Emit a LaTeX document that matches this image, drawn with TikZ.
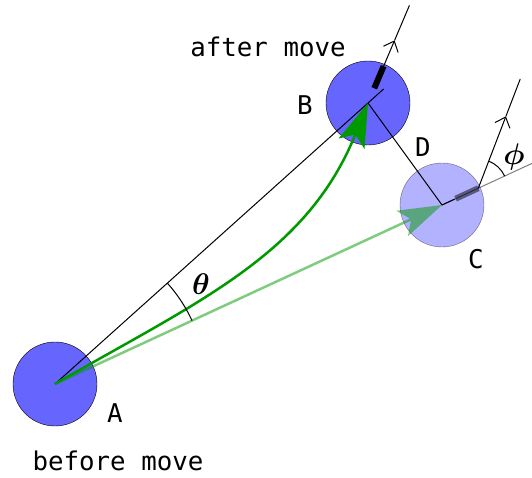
\documentclass[tikz,border=0pt]{standalone}
\usepackage{fix-cm}
\usepackage{fontspec}
\setmainfont{DejaVu Sans Mono}
\usetikzlibrary{arrows.meta,calc}

\begin{document}
\begin{tikzpicture}[x=1pt, y=1pt,
			ball/.style={circle, draw, fill=blue!60, minimum size=84pt, inner sep=0pt},
			ghost/.style={opacity=0.5, transparency group},
			thin line/.style={line width=1pt},
			bar/.style={line width=6pt},
			lbl/.style={font=\fontsize{25.8}{30}\selectfont, inner sep=0pt},
			greek/.style={font=\fontsize{24.88}{30}\selectfont\boldmath, inner sep=0pt, scale=1.2, transform shape},
			bigtip/.style={green!60!black, line width=2.5pt, -{Stealth[length=44pt, width=28pt, inset=10pt, line width=0pt]}},
			midtip/.style={-{Straight Barb[length=9pt, width=16pt]}}]
		\useasboundingbox (0,0) rectangle (532,478);
		\node[ball] (A) at (55,94) {};
		\node[ball] (B) at (368,375) {};
		\node[ball, opacity=0.5] (C) at (442,273) {};
		\coordinate (Ch) at ($(C)+(24.8:40)$);
		\draw[thin line] (A.center) -- ($(A.center)!1.05!(B.center)$);
		\draw[thin line] (B.center) -- (C.center) -- ($(C)+(24.8:14)$);
		\draw[thin line, opacity=0.5] (C.center) -- ($(C)+(24.8:100)$);
		\begin{scope}[ghost]
			\draw[bigtip] (A.center) -- (C.center);
		\end{scope}
		\draw[bigtip] (A.center) to[out=30, in=248] (B.center);
		\draw[bar] ($(B)+(67:16)$) -- ($(B)+(67:40)$);
		\draw[thin line, midtip] ($(B)+(67:40)$) -- ($(B)+(67:68)$);
		\draw[thin line] ($(B)+(67:68)$) -- ($(B)+(67:106)$);
		\draw[bar, opacity=0.5] ($(C)+(24.8:15)$) -- (Ch);
		\draw[thin line, midtip] (Ch) -- ($(Ch)+(69:77)$);
		\draw[thin line] ($(Ch)+(69:77)$) -- ($(Ch)+(69:117)$);
		\draw[thin line] ($(Ch)+(24.8:29)$) arc[start angle=24.8, end angle=69, radius=29];
		\draw[thin line] ($(A)+(41.9:151)$) arc[start angle=41.9, end angle=24.8, radius=151];
		\node[lbl] (after) at (268,431) {after move};
		\node[lbl] (before) at (118,17) {before move};
		\node[lbl] (labA) at (115,65) {A};
		\node[lbl] (labB) at (305,373) {B};
		\node[lbl] (labC) at (476,219) {C};
		\node[lbl] (labD) at (423,331) {D};
		\node[greek] (theta) at (201,194) {$\theta$};
		\node[greek] (phi) at (514,321) {$\phi$};
	\end{tikzpicture}
\end{document}
